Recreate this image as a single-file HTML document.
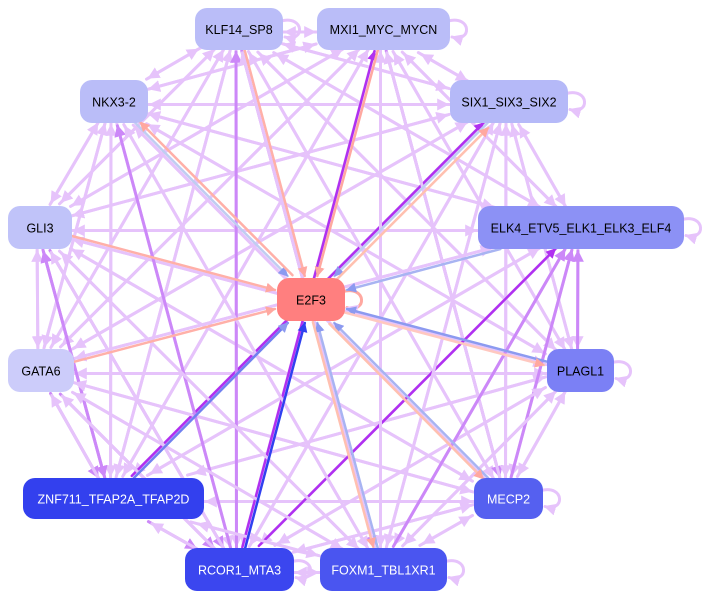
<!DOCTYPE html>
<html><head><meta charset="utf-8"><style>
html,body{margin:0;padding:0;background:#fff;width:716px;height:599px;overflow:hidden}
svg{display:block}
text{font-family:"Liberation Sans",Arial,sans-serif;font-size:12.5px;text-anchor:middle;dominant-baseline:central}
</style></head><body>
<svg id="s" width="716" height="599" viewBox="0 0 716 599" xmlns="http://www.w3.org/2000/svg">
<defs>
<marker id="mL" viewBox="0 0 10 10" refX="9" refY="5" markerWidth="4" markerHeight="4" orient="auto"><path d="M0,0L10,5L0,10z" fill="#e6c3fb"/></marker>
<marker id="mD" viewBox="0 0 10 10" refX="9" refY="5" markerWidth="4" markerHeight="4" orient="auto"><path d="M0,0L10,5L0,10z" fill="#cc88f8"/></marker>
<marker id="mP" viewBox="0 0 10 10" refX="9" refY="5" markerWidth="4" markerHeight="4" orient="auto"><path d="M0,0L10,5L0,10z" fill="#b030f0"/></marker>
<marker id="mS" viewBox="0 0 10 10" refX="9" refY="5" markerWidth="4" markerHeight="4" orient="auto"><path d="M0,0L10,5L0,10z" fill="#ffa8a0"/></marker>
<marker id="mB" viewBox="0 0 10 10" refX="9" refY="5" markerWidth="4" markerHeight="4" orient="auto"><path d="M0,0L10,5L0,10z" fill="#8c9af0"/></marker>
<marker id="mK" viewBox="0 0 10 10" refX="9" refY="5" markerWidth="4" markerHeight="4" orient="auto"><path d="M0,0L10,5L0,10z" fill="#3040f0"/></marker>
</defs>
<g id="edges" fill="none" stroke-linecap="round"></g>
<g id="nodes"></g>
</svg>
<script>
var N={
KLF:[195,8,88,42,"KLF14_SP8","#babdf8","#000"],
MXI:[317,8,133,42,"MXI1_MYC_MYCN","#babdf8","#000"],
NKX:[80,80,68,43,"NKX3-2","#babdf8","#000"],
SIX:[450,80,118,43,"SIX1_SIX3_SIX2","#b5b9f8","#000"],
GLI:[8,206,64,43,"GLI3","#c0c3f9","#000"],
ELK:[478,206,206,43,"ELK4_ETV5_ELK1_ELK3_ELF4","#8c91f5","#000"],
E2F:[277,278,68,43,"E2F3","#ff7f7f","#000"],
GATA:[8,349,66,43,"GATA6","#ccccfa","#000"],
PLAG:[547,349,67,43,"PLAGL1","#7b80f5","#000"],
ZNF:[23,478,181,41,"ZNF711_TFAP2A_TFAP2D","#3340ee","#fff"],
MECP:[474,478,69,41,"MECP2","#5560f0","#fff"],
RCOR:[185,548,109,43,"RCOR1_MTA3","#3b46ef","#fff"],
FOXM:[320,548,127,43,"FOXM1_TBL1XR1","#4a55f0","#fff"]};
var NS="http://www.w3.org/2000/svg";
function c(k){var n=N[k];return [n[0]+n[2]/2,n[1]+n[3]/2];}
function addPath(d,col,m,w){var p=document.createElementNS(NS,"path");
 p.setAttribute("d",d);p.setAttribute("stroke",col);p.setAttribute("stroke-width",w||3);
 if(m)p.setAttribute("marker-end","url(#"+m+")");document.getElementById("edges").appendChild(p);}
function edge(a,b,col,m,w,off){
 var A=c(a),B=c(b);var nb=N[b];
 var dx=B[0]-A[0],dy=B[1]-A[1];
 var hw=nb[2]/2+2,hh=nb[3]/2+2;
 var t=Math.min(Math.abs(dx)>0?hw/Math.abs(dx):9,Math.abs(dy)>0?hh/Math.abs(dy):9);
 var ex=B[0]-dx*t,ey=B[1]-dy*t;
 var na=N[a];var hw2=na[2]/2,hh2=na[3]/2;
 var t2=Math.min(Math.abs(dx)>0?hw2/Math.abs(dx):9,Math.abs(dy)>0?hh2/Math.abs(dy):9);
 var sx=A[0]+dx*t2,sy=A[1]+dy*t2;
 var o=off||0;var L=Math.hypot(dx,dy);var px=-dy/L*o,py=dx/L*o;
 addPath("M"+(sx+px)+","+(sy+py)+" L"+(ex+px)+","+(ey+py),col,m,w);
}
function loop(k,col){var n=N[k];var x=n[0]+n[2],y=n[1]+n[3]/2;
 addPath("M"+(x-2)+","+(y-8)+" C"+(x+22)+","+(y-14)+" "+(x+22)+","+(y+14)+" "+(x+2)+","+(y+8),col,"mL",3);}
var outer=["KLF","MXI","NKX","SIX","GLI","ELK","GATA","PLAG","ZNF","MECP","RCOR","FOXM"];
var dark={"GLI-ZNF":1,"ZNF-GLI":1,"GATA-ZNF":1,"RCOR-KLF":1,"FOXM-ELK":1,"MECP-ELK":1,"PLAG-ELK":1,"ZNF-RCOR":1,"RCOR-NKX":1,"GLI-RCOR":1,"GATA-RCOR":1,"KLF-FOXM":1,"MXI-MECP":1};
var purple={"RCOR-MXI":1,"RCOR-ELK":1,"ZNF-SIX":1};
for(var i=0;i<outer.length;i++)for(var j=0;j<outer.length;j++){if(i==j)continue;
 var a=outer[i],b=outer[j],k=a+"-"+b;
 if(purple[k])edge(a,b,"#b030f0","mP",2.5,i<j?3:-3);
 else if(dark[k])edge(a,b,"#cc88f8","mD",3,i<j?3:-3);
 else edge(a,b,"#e6c3fb","mL",3,i<j?3:-3);
}
["KLF","MXI","SIX","ELK","PLAG","MECP","FOXM","RCOR"].forEach(function(k){loop(k,"#e6c3fb");});
loop("E2F","#ffa8a0");
var ein=[["KLF","#ffb0a8","mS"],["MXI","#ffa8a0","mS"],["NKX","#c0cdf2","mB"],["SIX","#c0cdf2","mB"],["GLI","#ffb0a8","mS"],["ELK","#a8b4f2","mB"],["GATA","#ffb0a8","mS"],["PLAG","#8c9af0","mB"],["ZNF","#7080f0","mB"],["MECP","#a8b4f2","mB"],["RCOR","#3040f0","mK"],["FOXM","#a8b4f2","mB"]];
ein.forEach(function(e){edge(e[0],"E2F",e[1],e[2],2.5,0);});
var eout=[["NKX","#ffb0a8"],["SIX","#ffc0b0"],["PLAG","#ffc8c0"],["MECP","#ffc0b0"],["FOXM","#ffc0b0"]];
eout.forEach(function(e){edge("E2F",e[0],e[1],"mS",2.5,4);});
var g=document.getElementById("nodes");
for(var k in N){var n=N[k];
 var r=document.createElementNS(NS,"rect");
 r.setAttribute("x",n[0]);r.setAttribute("y",n[1]);r.setAttribute("width",n[2]);r.setAttribute("height",n[3]);
 r.setAttribute("rx",12);r.setAttribute("fill",n[5]);g.appendChild(r);
 var t=document.createElementNS(NS,"text");
 t.setAttribute("x",n[0]+n[2]/2);t.setAttribute("y",n[1]+n[3]/2+1);t.setAttribute("fill",n[6]);
 t.textContent=n[4];g.appendChild(t);}
</script>
</body></html>
